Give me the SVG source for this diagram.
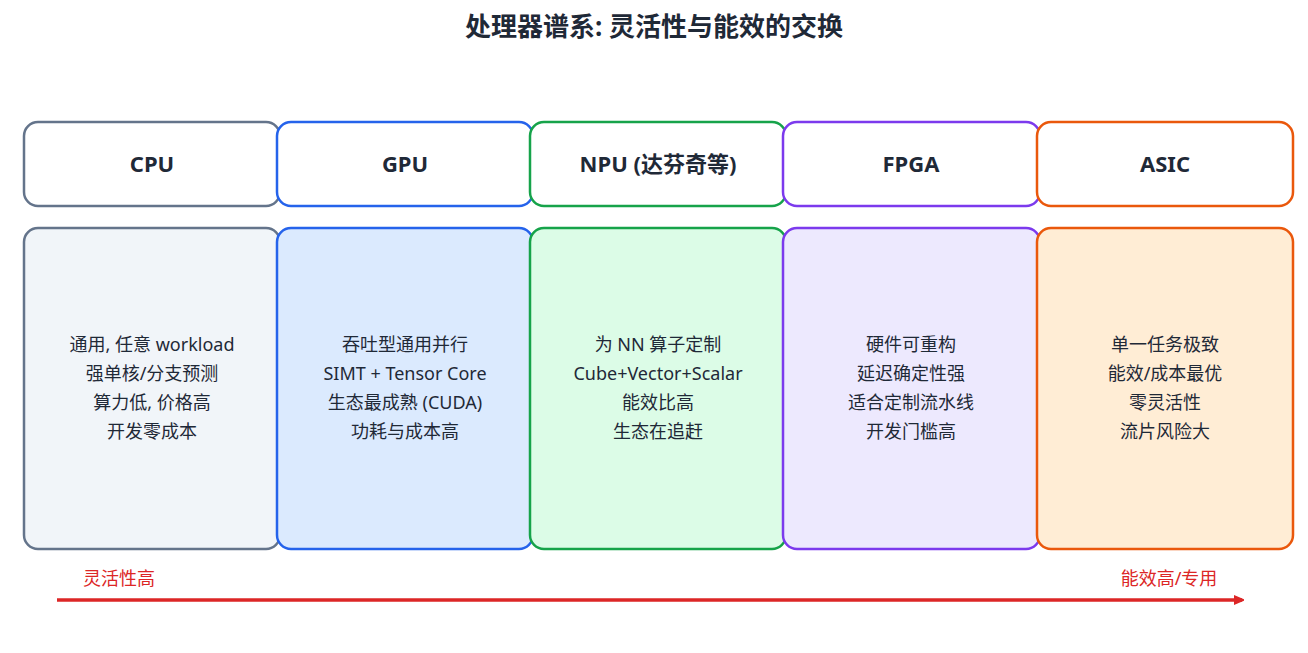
<svg xmlns="http://www.w3.org/2000/svg" width="1308" height="653" viewBox="0 0 1308 653">
<style>
text{font-family:"Noto Sans","Noto Sans CJK SC",sans-serif;text-anchor:middle}
.t{font-size:26px;font-weight:bold;fill:#1f2937}
.h{font-size:22px;font-weight:bold;fill:#1f2937}
.b{font-size:18px;fill:#1f2937}
.r{font-size:18px;fill:#dc2626}
rect{stroke-width:2.5}
</style>
<defs><marker id="ah" markerWidth="10" markerHeight="10" refX="8" refY="5" orient="auto" markerUnits="userSpaceOnUse"><path d="M0,0 L12,5 L0,10Z" fill="#dc2626"/></marker></defs>
<text class="t" x="654" y="36">处理器谱系: 灵活性与能效的交换</text>
<g id="cpu"><rect x="24" y="122" width="256" height="84" rx="14" fill="#fff" stroke="#64748b"/><text class="h" x="152" y="172">CPU</text>
<rect x="24" y="228" width="256" height="321" rx="14" fill="#f1f5f9" stroke="#64748b"/>
<text class="b" x="152" y="351">通用, 任意 workload</text><text class="b" x="152" y="380">强单核/分支预测</text><text class="b" x="152" y="409">算力低, 价格高</text><text class="b" x="152" y="438">开发零成本</text></g>
<g id="gpu"><rect x="277" y="122" width="256" height="84" rx="14" fill="#fff" stroke="#2563eb"/><text class="h" x="405" y="172">GPU</text>
<rect x="277" y="228" width="256" height="321" rx="14" fill="#dbeafe" stroke="#2563eb"/>
<text class="b" x="405" y="351">吞吐型通用并行</text><text class="b" x="405" y="380">SIMT + Tensor Core</text><text class="b" x="405" y="409">生态最成熟 (CUDA)</text><text class="b" x="405" y="438">功耗与成本高</text></g>
<g id="npu"><rect x="530" y="122" width="256" height="84" rx="14" fill="#fff" stroke="#16a34a"/><text class="h" x="658" y="172">NPU (达芬奇等)</text>
<rect x="530" y="228" width="256" height="321" rx="14" fill="#dcfce7" stroke="#16a34a"/>
<text class="b" x="658" y="351">为 NN 算子定制</text><text class="b" x="658" y="380">Cube+Vector+Scalar</text><text class="b" x="658" y="409">能效比高</text><text class="b" x="658" y="438">生态在追赶</text></g>
<g id="fpga"><rect x="783" y="122" width="257" height="84" rx="14" fill="#fff" stroke="#7c3aed"/><text class="h" x="911" y="172">FPGA</text>
<rect x="783" y="228" width="257" height="321" rx="14" fill="#ede9fe" stroke="#7c3aed"/>
<text class="b" x="911" y="351">硬件可重构</text><text class="b" x="911" y="380">延迟确定性强</text><text class="b" x="911" y="409">适合定制流水线</text><text class="b" x="911" y="438">开发门槛高</text></g>
<g id="asic"><rect x="1037" y="122" width="256" height="84" rx="14" fill="#fff" stroke="#ea580c"/><text class="h" x="1165" y="172">ASIC</text>
<rect x="1037" y="228" width="256" height="321" rx="14" fill="#ffedd5" stroke="#ea580c"/>
<text class="b" x="1165" y="351">单一任务极致</text><text class="b" x="1165" y="380">能效/成本最优</text><text class="b" x="1165" y="409">零灵活性</text><text class="b" x="1165" y="438">流片风险大</text></g>
<g id="connectors"><line x1="57" y1="600" x2="1242" y2="600" stroke="#dc2626" stroke-width="3.5" marker-end="url(#ah)"/></g>
<text class="r" x="119" y="585">灵活性高</text>
<text class="r" x="1169" y="585">能效高/专用</text>
</svg>
